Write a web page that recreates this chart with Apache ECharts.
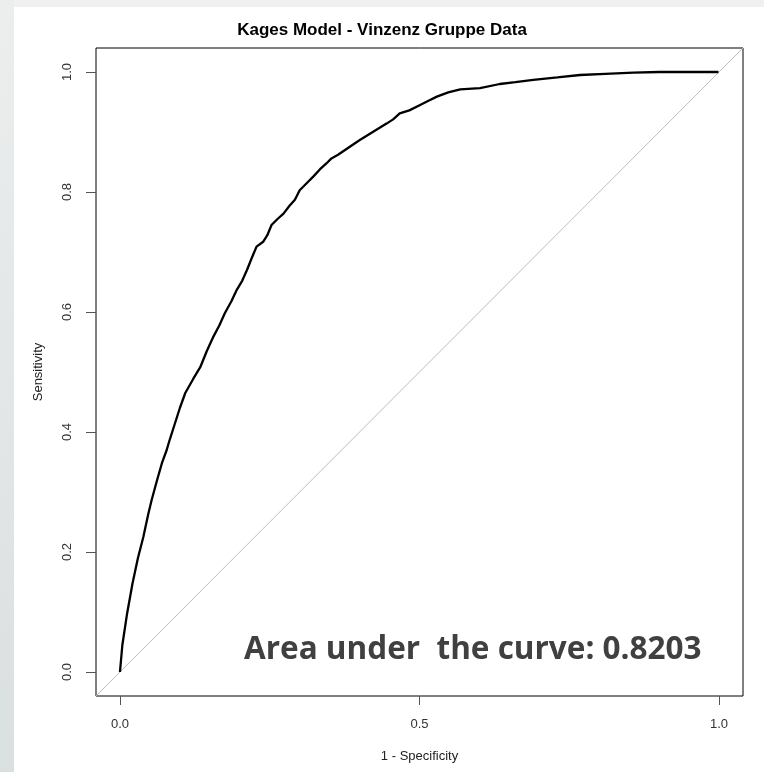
<!DOCTYPE html>
<html>
<head>
<meta charset="utf-8">
<script src="https://cdn.jsdelivr.net/npm/echarts@6/dist/echarts.min.js"></script>
<style>
  html, body { margin: 0; padding: 0; background: #fff; }
  #chart { width: 764px; height: 772px; }
</style>
</head>
<body>
<div id="chart"></div>
<script>
// ROC curve: 1 - specificity vs sensitivity
var fpr = [0, 0.004, 0.012, 0.021, 0.030, 0.039, 0.047, 0.053, 0.062, 0.070, 0.078, 0.083, 0.092, 0.100, 0.109,
  0.122, 0.134, 0.145, 0.156, 0.166, 0.175, 0.186, 0.195, 0.204, 0.212, 0.220, 0.228, 0.239, 0.246, 0.253,
  0.263, 0.273, 0.283, 0.292, 0.300, 0.312, 0.323, 0.334, 0.345, 0.353, 0.364, 0.380, 0.401, 0.422, 0.445,
  0.456, 0.467, 0.483, 0.501, 0.515, 0.529, 0.548, 0.568, 0.601, 0.634, 0.660, 0.690, 0.730, 0.768, 0.810,
  0.857, 0.900, 0.940, 0.970, 0.999];
var tpr = [0, 0.045, 0.098, 0.148, 0.190, 0.225, 0.262, 0.287, 0.320, 0.348, 0.370, 0.387, 0.415, 0.440, 0.465,
  0.488, 0.508, 0.535, 0.559, 0.578, 0.598, 0.618, 0.637, 0.652, 0.670, 0.690, 0.709, 0.717, 0.728, 0.745,
  0.755, 0.764, 0.777, 0.787, 0.803, 0.815, 0.826, 0.838, 0.848, 0.856, 0.862, 0.873, 0.887, 0.900, 0.914,
  0.921, 0.931, 0.936, 0.945, 0.952, 0.959, 0.966, 0.971, 0.973, 0.980, 0.983, 0.987, 0.991, 0.995, 0.997,
  0.999, 1.0, 1.0, 1.0, 1.0];
var refX = [-0.04, 1.04];
var refY = [-0.04, 1.04];
var xTicks = [0, 0.5, 1];
var yTicks = [0, 0.2, 0.4, 0.6, 0.8, 1];
var aucText = 'Area under  the curve: 0.8203';

var chart = echarts.init(document.getElementById('chart'));
var font = '"Liberation Sans", Arial, sans-serif';

chart.setOption({
  animation: false,
  backgroundColor: '#fff',
  title: {
    text: 'Kages Model - Vinzenz Gruppe Data',
    left: 'center',
    top: 17,
    textStyle: { fontFamily: font, fontSize: 17, fontWeight: 'bold', color: '#000' }
  },
  grid: {
    left: 96, top: 48, width: 647, height: 648,
    show: true, borderColor: '#000', borderWidth: 1, backgroundColor: 'transparent'
  },
  xAxis: {
    type: 'value', min: -0.04, max: 1.04,
    name: '1 - Specificity', nameLocation: 'middle', nameGap: 54,
    nameTextStyle: { fontFamily: font, fontSize: 13, color: '#222' },
    axisLine: { show: false, onZero: false },
    axisTick: { show: true, length: 9, customValues: xTicks, lineStyle: { color: '#555' } },
    axisLabel: { customValues: xTicks, margin: 22, fontFamily: font, fontSize: 13, color: '#333',
      formatter: function (v) { return v.toFixed(1); } },
    splitLine: { show: false }
  },
  yAxis: {
    type: 'value', min: -0.04, max: 1.04,
    name: 'Sensitivity', nameLocation: 'middle', nameGap: 51,
    nameTextStyle: { fontFamily: font, fontSize: 13, color: '#222' },
    axisLine: { show: false, onZero: false },
    axisTick: { show: true, length: 10, customValues: yTicks, lineStyle: { color: '#555' } },
    axisLabel: { customValues: yTicks, margin: 22, rotate: 90, fontFamily: font, fontSize: 13, color: '#333',
      formatter: function (v) { return v.toFixed(1); } },
    splitLine: { show: false }
  },
  graphic: [
    { type: 'rect', left: 0, top: 0, z: -10, shape: { width: 764, height: 7 }, style: { fill: '#eff0f0' } },
    { type: 'rect', left: 0, top: 0, z: -10, shape: { width: 14, height: 772 },
      style: { fill: new echarts.graphic.LinearGradient(0, 0, 0, 1, [
        { offset: 0, color: '#eceeee' }, { offset: 1, color: '#dadfdf' }]) } },
    { type: 'text', x: 244, y: 634, z: 10,
      style: { text: aucText, font: 'bold 31.5px "Open Sans", sans-serif', fill: '#404040',
        verticalAlign: 'top' } }
  ],
  series: [
    {
      type: 'line', symbol: 'none', silent: true,
      data: refX.map(function (x, i) { return [x, refY[i]]; }),
      lineStyle: { color: '#bdbdbd', width: 1 }
    },
    {
      type: 'line', symbol: 'none', silent: true,
      data: fpr.map(function (x, i) { return [x, tpr[i]]; }),
      lineStyle: { color: '#000', width: 2.3 }
    }
  ]
});
</script>
</body>
</html>
